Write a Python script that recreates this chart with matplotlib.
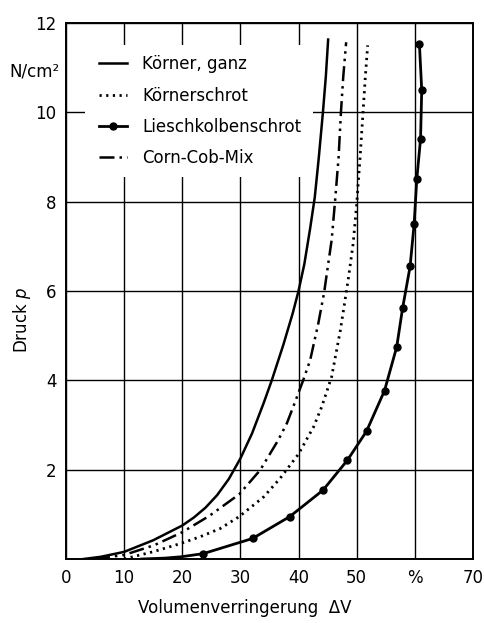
import matplotlib
matplotlib.use('Agg')
import matplotlib.pyplot as plt
from matplotlib.patches import Rectangle

# Volumenverringerung (%) vs Druck (N/cm2)
ganz_x = [3, 6, 10, 15, 20, 22, 24, 26, 28, 30, 32, 34, 35.4, 37.4, 39, 40, 41, 42,
          42.8, 43.5, 44.2, 44.7, 45.1]
ganz_y = [0, 0.05, 0.16, 0.42, 0.75, 0.93, 1.15, 1.43, 1.79, 2.25, 2.81, 3.49, 4.0, 4.8,
          5.5, 6.0, 6.6, 7.4, 8.1, 9.0, 10.0, 10.8, 11.63]

schrot_x = [10, 11.5, 14.9, 19.8, 23.1, 26.5, 29.8, 34.0, 36.8, 40, 42.6, 44.0, 45.7, 47.2,
            48.0, 48.6, 49.4, 50.0, 50.6, 51.1, 51.5, 51.9]
schrot_y = [0, 0.05, 0.16, 0.35, 0.5, 0.68, 0.95, 1.39, 1.8, 2.35, 2.96, 3.41, 4.08, 5.12,
            5.79, 6.3, 7.06, 7.92, 9.0, 10.0, 10.8, 11.5]

lkb_x = [13, 17, 19.8, 23.6, 32.1, 38.5, 44.2, 48.4, 51.7, 54.8, 56.9, 57.9, 59.2, 59.9,
         60.35, 61.0, 61.2, 60.8]
lkb_y = [0, 0.02, 0.05, 0.12, 0.46, 0.95, 1.54, 2.21, 2.86, 3.77, 4.75, 5.61, 6.55, 7.51,
         8.5, 9.41, 10.5, 11.54]

ccm_x = [5, 10, 15.2, 20, 24.7, 29.8, 33.4, 36.5, 38.0, 39.1, 40.8, 42.0, 43.4, 44.4,
         45.7, 46.3, 46.9, 47.3, 47.7, 48.2]
ccm_y = [0, 0.09, 0.31, 0.6, 0.97, 1.45, 1.99, 2.66, 3.04, 3.41, 4.0, 4.45, 5.27, 5.96,
         7.14, 8.03, 9.0, 10.0, 10.8, 11.57]

xticks = [0, 10, 20, 30, 40, 50, 60, 70]
xlabels = ['0', '10', '20', '30', '40', '50', '%', '70']
yticks = [0, 2, 4, 6, 8, 10, 12]
ylabels = ['', '2', '4', '6', '8', '10', '12']

plt.rcParams['font.family'] = 'DejaVu Sans'

fig = plt.figure(figsize=(4.84, 6.23), dpi=100)
ax = fig.add_axes([0.1364, 0.1027, 0.8406, 0.8603])

ax.plot(ganz_x, ganz_y, color='black', lw=1.8, label='Körner, ganz', zorder=3)
ax.plot(schrot_x, schrot_y, color='black', lw=2, linestyle=(0, (0.8, 1.6)),
        label='Körnerschrot', zorder=3)
ax.plot(lkb_x, lkb_y, color='black', lw=2, marker='o', markersize=5,
        markevery=slice(3, None), label='Lieschkolbenschrot', zorder=3)
ax.plot(ccm_x, ccm_y, color='black', lw=1.8, linestyle=(0, (6, 2, 1, 2, 1, 2)),
        label='Corn-Cob-Mix', zorder=3)

ax.set_xlim(0, 70)
ax.set_ylim(0, 12)
ax.set_xticks(xticks)
ax.set_xticklabels(xlabels)
ax.set_yticks(yticks)
ax.set_yticklabels(ylabels)
ax.tick_params(length=0, labelsize=12, pad=7)
ax.grid(True, color='black', lw=1)
ax.set_axisbelow(True)
for s in ax.spines.values():
    s.set_linewidth(1.4)

# white box behind the legend hides the grid
ax.add_patch(Rectangle((0.047, 0.713), 0.56, 0.246, transform=ax.transAxes,
                       facecolor='white', edgecolor='none', zorder=1))
ax.legend(loc='upper left', bbox_to_anchor=(0.08, 0.94), frameon=False,
          fontsize=12, handlelength=1.7, handletextpad=0.9, labelspacing=0.8,
          borderpad=0, borderaxespad=0)

ax.text(-0.015, 0.909, 'N/cm²', transform=ax.transAxes, ha='right', va='center',
        fontsize=12)

ax.set_ylabel('Druck $p$', fontsize=12)
ax.yaxis.set_label_coords(-0.081, 0.446)
ax.set_xlabel('Volumenverringerung  ΔV', fontsize=12)
ax.xaxis.set_label_coords(0.44, -0.075)

fig.savefig('out.png', dpi=100, facecolor='white')
